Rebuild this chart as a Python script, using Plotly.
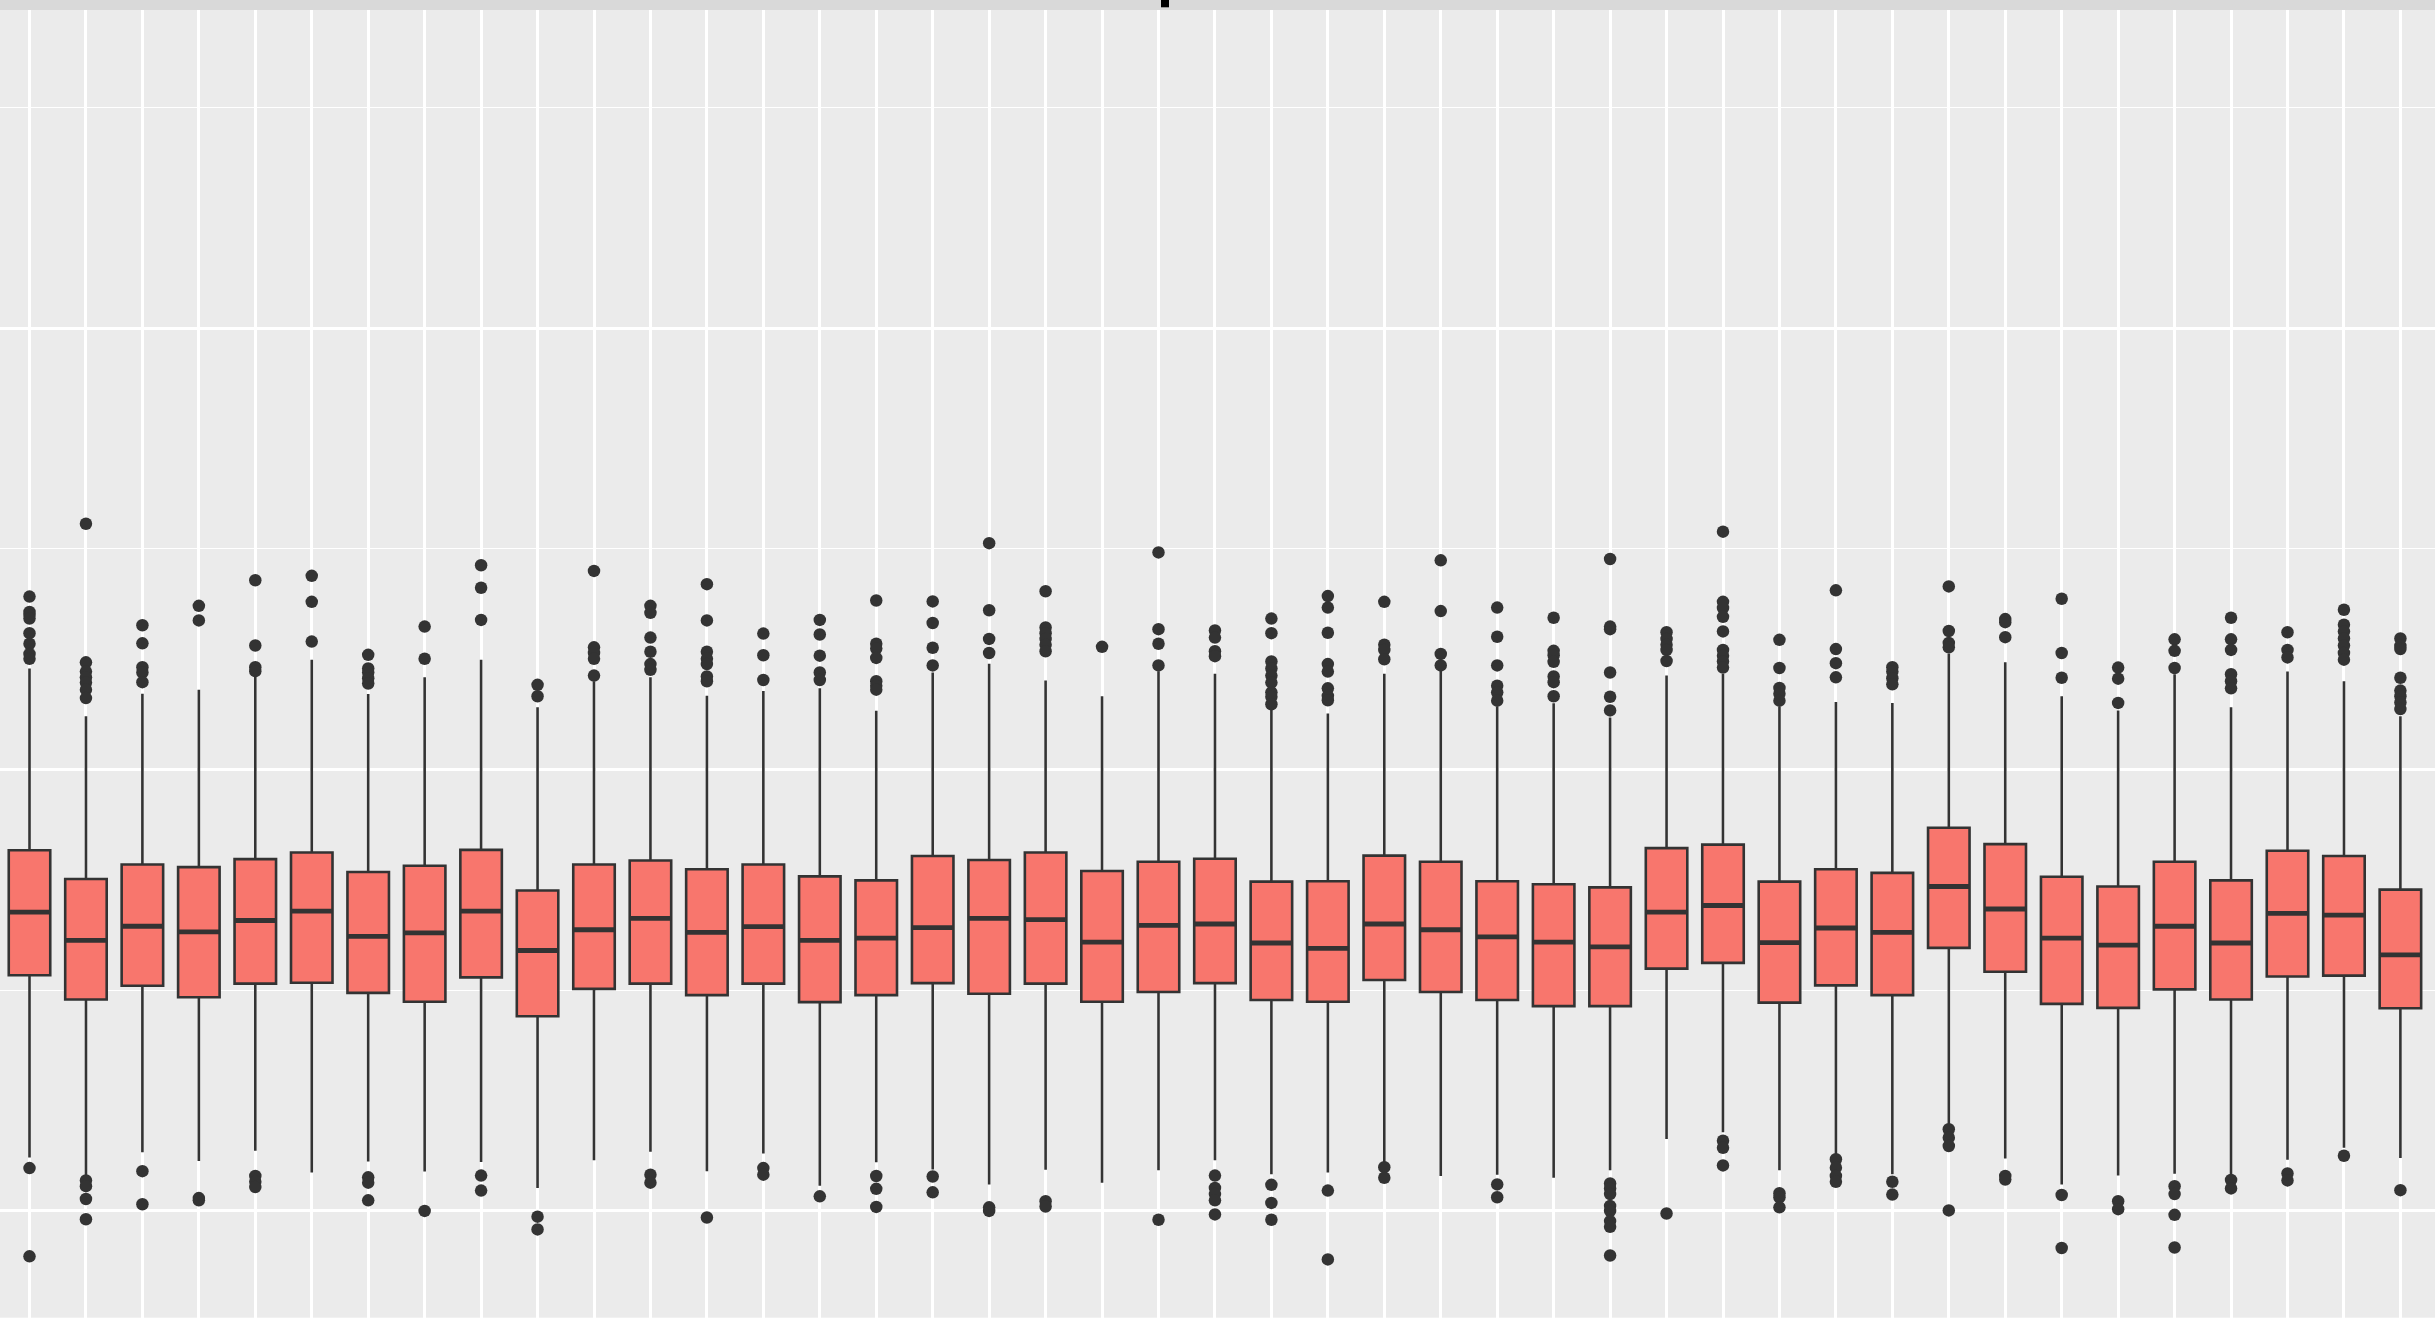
import plotly.graph_objects as go

categories = [str(i) for i in range(1, 44)]

q3 = [0.817, 0.752, 0.785, 0.779, 0.797, 0.812, 0.768, 0.782, 0.818, 0.726,
      0.785, 0.794, 0.774, 0.785, 0.758, 0.749, 0.804, 0.795, 0.812, 0.770,
      0.791, 0.798, 0.746, 0.747, 0.805, 0.791, 0.747, 0.740, 0.733, 0.822,
      0.830, 0.746, 0.774, 0.766, 0.868, 0.831, 0.757, 0.735, 0.791, 0.749,
      0.816, 0.804, 0.728]
median = [0.677, 0.613, 0.645, 0.632, 0.658, 0.679, 0.622, 0.630, 0.679, 0.590,
          0.637, 0.663, 0.631, 0.644, 0.613, 0.618, 0.642, 0.663, 0.660, 0.609,
          0.647, 0.650, 0.607, 0.595, 0.650, 0.637, 0.621, 0.609, 0.598, 0.677,
          0.692, 0.608, 0.641, 0.631, 0.735, 0.684, 0.618, 0.602, 0.645, 0.607,
          0.674, 0.670, 0.580]
q1 = [0.534, 0.479, 0.510, 0.484, 0.515, 0.517, 0.494, 0.474, 0.529, 0.441,
      0.503, 0.515, 0.489, 0.515, 0.473, 0.489, 0.516, 0.492, 0.515, 0.474,
      0.496, 0.516, 0.478, 0.474, 0.523, 0.496, 0.478, 0.464, 0.464, 0.549,
      0.562, 0.472, 0.511, 0.489, 0.596, 0.542, 0.469, 0.460, 0.502, 0.479,
      0.531, 0.533, 0.459]
upper_whisker = [1.229, 1.121, 1.172, 1.181, 1.211, 1.249, 1.171, 1.209, 1.249, 1.141,
                 1.200, 1.209, 1.167, 1.178, 1.184, 1.133, 1.220, 1.240, 1.202, 1.166,
                 1.223, 1.217, 1.137, 1.127, 1.217, 1.226, 1.143, 1.150, 1.118, 1.213,
                 1.217, 1.143, 1.153, 1.151, 1.263, 1.243, 1.166, 1.134, 1.216, 1.141,
                 1.222, 1.200, 1.121]
lower_whisker = [0.121, 0.079, 0.133, 0.113, 0.136, 0.087, 0.112, 0.089, 0.111, 0.052,
                 0.115, 0.134, 0.090, 0.130, 0.057, 0.110, 0.094, 0.060, 0.093, 0.064,
                 0.092, 0.115, 0.083, 0.087, 0.110, 0.079, 0.082, 0.075, 0.092, 0.163,
                 0.178, 0.092, 0.127, 0.083, 0.194, 0.119, 0.060, 0.080, 0.084, 0.079,
                 0.116, 0.143, 0.120]
outliers = [
    [1.392, 1.357, 1.350, 1.342, 1.309, 1.285, 1.262, 1.251, 0.097, -0.103],
    [1.557, 1.243, 1.222, 1.209, 1.197, 1.181, 1.162, 0.069, 0.056, 0.027, -0.019],
    [1.327, 1.286, 1.232, 1.220, 1.198, 0.090, 0.015],
    [1.371, 1.338, 0.029, 0.024],
    [1.429, 1.281, 1.232, 1.223, 0.079, 0.066, 0.054],
    [1.439, 1.380, 1.290],
    [1.260, 1.229, 1.220, 1.207, 1.195, 0.076, 0.064, 0.024],
    [1.324, 1.251, 0.000],
    [1.463, 1.412, 1.339, 0.080, 0.046],
    [1.192, 1.166, -0.013, -0.042],
    [1.450, 1.277, 1.264, 1.251, 1.213],
    [1.371, 1.355, 1.299, 1.267, 1.239, 1.226, 0.082, 0.064],
    [1.420, 1.338, 1.267, 1.251, 1.239, 1.211, 1.200, -0.015],
    [1.308, 1.259, 1.203, 0.097, 0.082],
    [1.339, 1.306, 1.258, 1.220, 1.203, 0.033],
    [1.383, 1.285, 1.274, 1.253, 1.200, 1.190, 1.181, 0.079, 0.050, 0.009],
    [1.381, 1.332, 1.276, 1.236, 0.078, 0.042],
    [1.513, 1.361, 1.296, 1.264, 0.008, 0.000],
    [1.404, 1.322, 1.309, 1.296, 1.283, 1.268, 0.022, 0.010],
    [1.278],
    [1.492, 1.318, 1.285, 1.236, -0.020],
    [1.315, 1.299, 1.268, 1.257, 0.080, 0.052, 0.038, 0.024, -0.008],
    [1.342, 1.309, 1.245, 1.229, 1.213, 1.197, 1.175, 1.165, 1.148, 0.059, 0.018, -0.020],
    [1.393, 1.367, 1.310, 1.239, 1.222, 1.184, 1.167, 1.157, 0.046, -0.110],
    [1.380, 1.283, 1.271, 1.250, 0.099, 0.075],
    [1.474, 1.359, 1.262, 1.236],
    [1.367, 1.301, 1.236, 1.190, 1.175, 1.156, 0.060, 0.031],
    [1.344, 1.269, 1.259, 1.244, 1.211, 1.198, 1.166],
    [1.477, 1.324, 1.318, 1.220, 1.165, 1.134, 0.062, 0.051, 0.038, 0.011, 0.000, -0.023, -0.036, -0.101],
    [1.311, 1.296, 1.283, 1.271, 1.246, -0.006],
    [1.539, 1.380, 1.366, 1.346, 1.313, 1.271, 1.258, 1.245, 1.231, 0.159, 0.143, 0.103],
    [1.294, 1.230, 1.185, 1.172, 1.156, 0.040, 0.031, 0.008],
    [1.406, 1.273, 1.241, 1.209, 0.117, 0.098, 0.079, 0.066],
    [1.232, 1.222, 1.207, 1.193, 0.066, 0.037],
    [1.415, 1.314, 1.287, 1.277, 0.185, 0.166, 0.147, 0.001],
    [1.341, 1.334, 1.300, 0.079, 0.071],
    [1.387, 1.264, 1.208, 0.036, -0.084],
    [1.231, 1.206, 1.151, 0.022, 0.004],
    [1.295, 1.269, 1.230, 0.056, 0.038, -0.009, -0.083],
    [1.344, 1.295, 1.271, 1.216, 1.200, 1.184, 0.070, 0.051],
    [1.311, 1.271, 1.254, 0.085, 0.069],
    [1.362, 1.328, 1.313, 1.297, 1.281, 1.264, 1.249, 0.125],
    [1.297, 1.280, 1.273, 1.208, 1.179, 1.166, 1.152, 1.137, 0.047],
]

W, H = 2435, 1331
STRIP_PX = 10
PANEL_BOTTOM_PX = 1317.7

fill = "#F8766D"
ink = "#333333"

fig = go.Figure()

fig.add_trace(go.Box(
    x=categories, q1=q1, median=median, q3=q3,
    lowerfence=lower_whisker, upperfence=upper_whisker,
    boxpoints=False, width=0.735, whiskerwidth=0,
    fillcolor=fill, line=dict(color=ink, width=2.6),
    showlegend=False, hoverinfo="skip",
))

# thicker median bar (ggplot fatten)
fig.add_trace(go.Box(
    x=categories, q1=median, median=median, q3=median,
    lowerfence=median, upperfence=median,
    boxpoints=False, width=0.735, whiskerwidth=0,
    fillcolor="rgba(0,0,0,0)", line=dict(color=ink, width=4.8),
    showlegend=False, hoverinfo="skip",
))

ox, oy = [], []
for c, pts in zip(categories, outliers):
    for v in pts:
        ox.append(c)
        oy.append(v)

fig.add_trace(go.Scatter(
    x=ox, y=oy, mode="markers",
    marker=dict(color=ink, size=12.5, line=dict(width=0)),
    showlegend=False, hoverinfo="skip",
))

step = 56.45
first_px = 29.5
x0 = -first_px / step
x1 = x0 + W / step

top_val = 2.721
bot_val = -0.242

dom_top = (H - STRIP_PX) / H
fig.update_layout(
    width=W, height=H,
    margin=dict(l=0, r=0, t=0, b=0, pad=0),
    paper_bgcolor="white",
    plot_bgcolor="#EBEBEB",
    boxmode="overlay",
    xaxis=dict(
        type="category", categoryorder="array", categoryarray=categories,
        range=[x0, x1], showticklabels=False, ticks="",
        showgrid=True, gridcolor="white", gridwidth=2.7,
        zeroline=False, showline=False, fixedrange=True,
    ),
    yaxis=dict(
        range=[bot_val, top_val], domain=[(H - PANEL_BOTTOM_PX) / H, dom_top],
        tick0=0, dtick=1, showticklabels=False, ticks="",
        showgrid=True, gridcolor="white", gridwidth=2.7,
        minor=dict(dtick=0.5, tick0=0, showgrid=True, gridcolor="white", gridwidth=1.4, ticks=""),
        zeroline=False, showline=False, fixedrange=True,
    ),
    shapes=[
        dict(type="rect", xref="paper", yref="paper",
             x0=0, x1=1, y0=dom_top, y1=1,
             fillcolor="#D9D9D9", line=dict(width=0)),
        dict(type="rect", xref="paper", yref="paper",
             x0=1161 / W, x1=1169 / W, y0=1 - 7.3 / H, y1=1,
             fillcolor="black", line=dict(width=0)),
    ],
)

fig.write_html(
    "out.html",
    config={"displayModeBar": False},
    post_script="document.body.style.margin='0';document.body.style.overflow='hidden';",
)
